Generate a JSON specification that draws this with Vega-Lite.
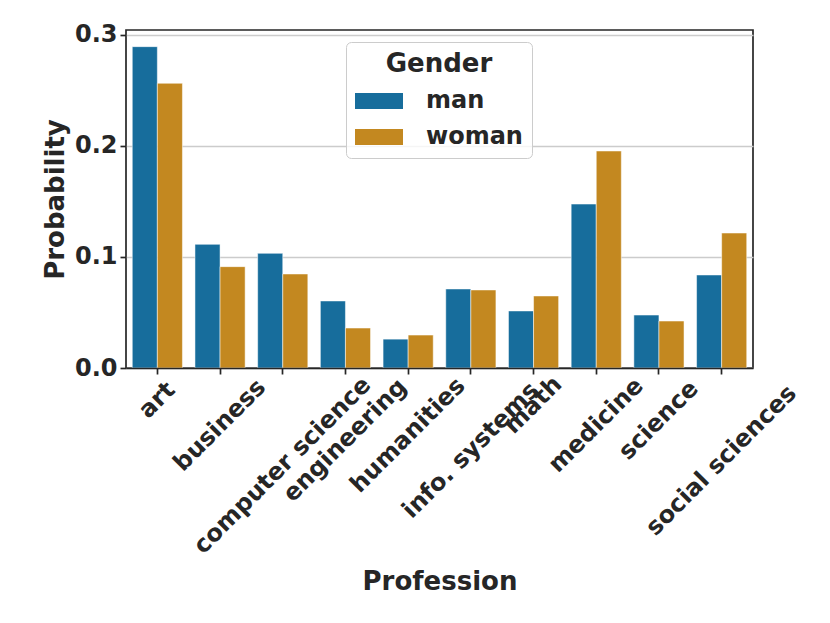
{
  "$schema": "https://vega.github.io/schema/vega-lite/v6.json",
  "width": 627,
  "height": 338,
  "autosize": {"type": "none"},
  "padding": {"left": 126, "top": 30, "right": 77, "bottom": 255},
  "background": "white",
  "data": {
    "values": [
      {"profession": "art", "gender": "man", "probability": 0.2895},
      {"profession": "art", "gender": "woman", "probability": 0.2565},
      {"profession": "business", "gender": "man", "probability": 0.1114},
      {"profession": "business", "gender": "woman", "probability": 0.0913},
      {"profession": "computer science", "gender": "man", "probability": 0.1033},
      {"profession": "computer science", "gender": "woman", "probability": 0.0847},
      {"profession": "engineering", "gender": "man", "probability": 0.0604},
      {"profession": "engineering", "gender": "woman", "probability": 0.036},
      {"profession": "humanities", "gender": "man", "probability": 0.026},
      {"profession": "humanities", "gender": "woman", "probability": 0.0297},
      {"profession": "info. systems", "gender": "man", "probability": 0.0712},
      {"profession": "info. systems", "gender": "woman", "probability": 0.0703},
      {"profession": "math", "gender": "man", "probability": 0.0514},
      {"profession": "math", "gender": "woman", "probability": 0.0649},
      {"profession": "medicine", "gender": "man", "probability": 0.1477},
      {"profession": "medicine", "gender": "woman", "probability": 0.1955},
      {"profession": "science", "gender": "man", "probability": 0.0477},
      {"profession": "science", "gender": "woman", "probability": 0.0423},
      {"profession": "social sciences", "gender": "man", "probability": 0.0838},
      {"profession": "social sciences", "gender": "woman", "probability": 0.1216}
    ]
  },
  "mark": {"type": "bar", "stroke": "white", "strokeWidth": 1, "strokeOpacity": 0.5},
  "encoding": {
    "x": {
      "field": "profession",
      "type": "nominal",
      "sort": null,
      "title": "Profession",
      "scale": {"paddingInner": 0.2, "paddingOuter": 0.1},
      "axis": {
        "labelAngle": -45,
        "labelAlign": "center",
        "labelBaseline": "middle",
        "labelPadding": 1,
        "labelLimit": 400,
        "labelOverlap": false,
        "tickSize": 6,
        "titlePadding": 10,
        "grid": false,
        "domain": true,
        "domainColor": "#262626",
        "domainWidth": 1.7,
        "zindex": 1,
        "encoding": {
          "labels": {
            "dx": {"value": {"expr": "-(length(datum.label) * 14.2 + 28) * 0.25"}},
            "dy": {"value": {"expr": "(length(datum.label) * 14.2 + 28) * 0.25"}}
          }
        }
      }
    },
    "xOffset": {
      "field": "gender",
      "type": "nominal",
      "sort": ["man", "woman"],
      "scale": {"paddingInner": 0, "paddingOuter": 0}
    },
    "y": {
      "field": "probability",
      "type": "quantitative",
      "title": "Probability",
      "scale": {"domain": [0, 0.3045], "nice": false},
      "axis": {
        "values": [0, 0.1, 0.2, 0.3],
        "format": ".1f",
        "grid": true,
        "gridColor": "#cccccc",
        "gridWidth": 1.3,
        "domain": false,
        "tickSize": 6,
        "labelPadding": 3,
        "titlePadding": 6
      }
    },
    "color": {
      "field": "gender",
      "type": "nominal",
      "title": "Gender",
      "scale": {"domain": ["man", "woman"], "range": ["#176d9c", "#c38820"]},
      "legend": {
        "orient": "none",
        "legendX": 220,
        "legendY": 12,
        "symbolType": "M-1,-0.333H1V0.333H-1Z",
        "symbolSize": 2304,
        "symbolStrokeWidth": 0,
        "labelOffset": 23,
        "titleAnchor": "middle",
        "titleAlign": "center",
        "titlePadding": 0,
        "rowPadding": 0,
        "padding": 9,
        "fillColor": "rgba(255,255,255,0.8)",
        "strokeColor": "#cccccc",
        "cornerRadius": 5
      }
    }
  },
  "config": {
    "font": "DejaVu Sans",
    "view": {"stroke": "#262626", "strokeWidth": 1.7},
    "axis": {
      "labelFont": "DejaVu Sans",
      "titleFont": "DejaVu Sans",
      "labelFontSize": 24,
      "titleFontSize": 26,
      "labelFontWeight": "bold",
      "titleFontWeight": "bold",
      "labelColor": "#262626",
      "titleColor": "#262626",
      "tickColor": "#262626",
      "tickWidth": 1.7
    },
    "legend": {
      "labelFont": "DejaVu Sans",
      "titleFont": "DejaVu Sans",
      "labelFontSize": 24,
      "titleFontSize": 26,
      "labelFontWeight": "bold",
      "titleFontWeight": "bold",
      "labelColor": "#262626",
      "titleColor": "#262626"
    }
  }
}
